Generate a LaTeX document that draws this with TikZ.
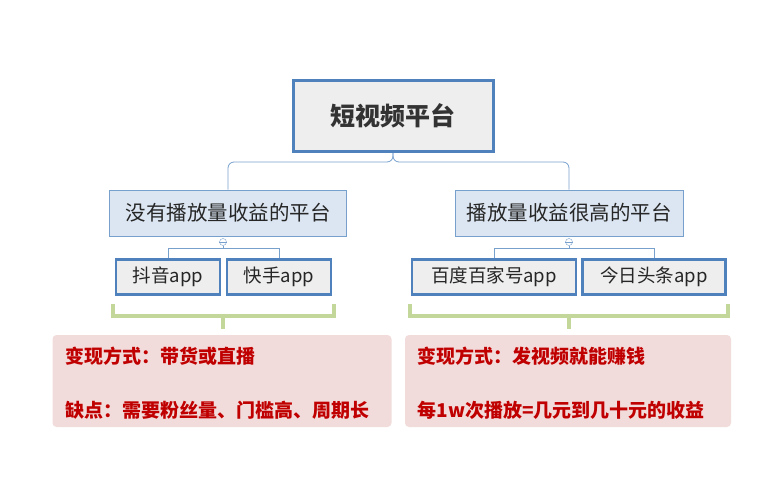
\documentclass[tikz,border=0pt]{standalone}
\usepackage{fontspec}
\setmainfont{Noto Sans CJK SC}
\definecolor{edgeblue}{RGB}{79,129,189}
\definecolor{lineblue}{RGB}{120,160,205}
\definecolor{midfill}{RGB}{220,230,242}
\definecolor{leaffill}{RGB}{238,238,238}
\definecolor{bracegreen}{RGB}{196,215,155}
\definecolor{notefill}{RGB}{242,220,219}
\definecolor{notetext}{RGB}{192,0,0}
\tikzset{
  rootbox/.style={draw=edgeblue, line width=3pt, fill=leaffill, minimum width=200pt, minimum height=71pt, font=\fontsize{25}{28}\selectfont\bfseries, text=black!80},
  midbox/.style={draw=lineblue, line width=0.8pt, fill=midfill, minimum width=237pt, minimum height=46pt, font=\fontsize{20.5}{23}\selectfont, text=black!85},
  leafbox/.style={draw=edgeblue, line width=2.2pt, fill=leaffill, minimum height=35pt, font=\fontsize{18.5}{21}\selectfont, text=black!85},
  link/.style={draw=lineblue, line width=0.8pt, rounded corners=6pt},
  brace/.style={draw=bracegreen, line width=4pt},
  notebox/.style={fill=notefill, rounded corners=4pt, minimum width=339pt, minimum height=92pt},
  notetxt/.style={anchor=west, text=notetext, font=\fontsize{19}{21}\selectfont\bfseries}
}
\begin{document}
\begin{tikzpicture}[x=1pt,y=1pt,yscale=-1,xscale=1]
\useasboundingbox (0,0) rectangle (784,500);

% Top
\node[rootbox] (root) at (393,116) {短视频平台};

% Second level
\node[midbox] (left) at (228,213) {没有播放量收益的平台};
\node[midbox, minimum width=228pt] (right) at (569,213) {播放量收益很高的平台};
\draw[link] (root.south) -- ++(0,9) -| (left.north);
\draw[link] (root.south) -- ++(0,9) -| (right.north);

% Apps
\node[leafbox, minimum width=104pt] (douyin) at (168,277) {抖音app};
\node[leafbox, minimum width=104pt] (kuaishou) at (279,277) {快手app};
\node[leafbox, minimum width=164pt] (baidu) at (494,277) {百度百家号app};
\node[leafbox, minimum width=143pt] (toutiao) at (654,277) {今日头条app};
\node[draw=lineblue, circle, inner sep=0pt, minimum size=7pt, fill=white] (lfold) at (223,242) {};
\node[draw=lineblue, circle, inner sep=0pt, minimum size=7pt, fill=white] (rfold) at (569,242) {};
\draw[lineblue, line width=0.6pt] (lfold.west) -- (lfold.east) (rfold.west) -- (rfold.east);
\draw[link, rounded corners=0pt] (lfold.south) -- ++(0,2.5) -| (douyin.north);
\draw[link, rounded corners=0pt] (lfold.south) -- ++(0,2.5) -| (kuaishou.north);
\draw[link, rounded corners=0pt] (rfold.south) -- ++(0,2.5) -| (baidu.north);
\draw[link, rounded corners=0pt] (rfold.south) -- ++(0,2.5) -| (toutiao.north);

% Braces
\draw[brace] (113,304) -- (113,316) -- (334,316) -- (334,304);
\draw[brace] (223,316) -- (223,329);
\draw[brace] (410,304) -- (410,316) -- (728,316) -- (728,304);
\draw[brace] (569,316) -- (569,329);

% Notes
\node[notebox] (lnote) at (222,381) {};
\node[notebox, minimum width=326pt] (rnote) at (568,381) {};
\node[notetxt] (lway) at (62,356) {变现方式：带货或直播};
\node[notetxt] (lcon) at (62,410) {缺点：需要粉丝量、门槛高、周期长};
\node[notetxt] (rway) at (414,356) {变现方式：发视频就能赚钱};
\node[notetxt] (rcon) at (414,410) {每1w次播放=几元到几十元的收益};
\end{tikzpicture}
\end{document}
